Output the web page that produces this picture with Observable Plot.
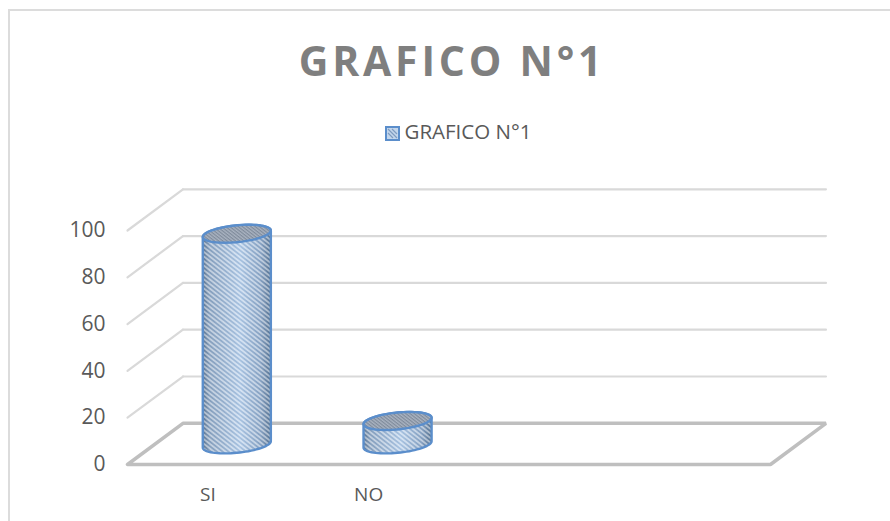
<!DOCTYPE html>
<html><head><meta charset="utf-8">
<script src="https://cdn.jsdelivr.net/npm/d3@7"></script>
<script src="https://cdn.jsdelivr.net/npm/@observablehq/plot@0.6"></script>
<style>
html,body{margin:0;padding:0;background:#fff;overflow:hidden}
#frame{position:absolute;left:7.5px;top:9px;width:1000px;height:700px;border:2px solid #dcdcdc;box-sizing:border-box}
#chart{position:absolute;left:0;top:0}
#title{position:absolute;left:7px;width:890px;top:30px;text-align:center;font:700 41px/60px "Open Sans";letter-spacing:3.8px;color:#7f7f7f}
#legend{position:absolute;left:13px;width:890px;top:119px;text-align:center;font:400 20.5px/24px "Open Sans";color:#595959}
#legend svg{vertical-align:-2px;margin-right:5px}
</style></head><body>
<div id="chart"></div><div id="frame"></div>
<div id="title"></div><div id="legend"></div>
<script>
const chartTitle = "GRAFICO N°1";
const categories = ["SI", "NO"];
const values = [90, 10];
const yTicks = [0, 20, 40, 60, 80, 100];
const slots = 4;

// oblique projection, in data units
const depthX = 0.345, depthY = 17.6;
const midX = 0.18, midY = 8.6;
const rA = 0.198, rB = 0.075, rC = 3.85;

const arc = (g, cx, v, t0, t1) => d3.range(0, 37).map(i => {
  const t = t0 + (t1 - t0) * i / 36;
  return {g, x: cx + rA * Math.cos(t) + rB * Math.sin(t), y: v + rC * Math.sin(t)};
});
const extreme = Math.atan2(rB, rA);

const backGrid = yTicks.slice(1).flatMap(v => [
  {g: v, x: depthX, y: v + depthY}, {g: v, x: slots + depthX, y: v + depthY}
]);
const sideGrid = yTicks.slice(1).flatMap(v => [
  {g: v, x: 0, y: v}, {g: v, x: depthX, y: v + depthY}
]);
const floor = [
  {x: 0, y: 0}, {x: slots, y: 0}, {x: slots + depthX, y: depthY}, {x: depthX, y: depthY}, {x: 0, y: 0}
];
const bodies = [], tops = [];
categories.forEach((c, i) => {
  const cx = i + 0.5 + midX;
  const v = values[i];
  const bottom = arc(c, cx, midY, extreme + Math.PI * 2, extreme + Math.PI);
  const topBack = arc(c, cx, midY + v, extreme + Math.PI, extreme);
  bodies.push(...bottom, ...topBack, bottom[0]);
  tops.push(...arc(c, cx, midY + v, 0, Math.PI * 2));
});

const defs = () => {
  const s = d3.create("svg:defs");
  const g = s.append("linearGradient").attr("id", "shade");
  [[0,"#5f7793"],[.1,"#8ea6c3"],[.55,"#b4cdea"],[.85,"#8ea8c8"],[1,"#5a7593"]]
    .forEach(([o,c]) => g.append("stop").attr("offset", o).attr("stop-color", c));
  const h = s.append("pattern").attr("id", "hatch").attr("patternUnits", "userSpaceOnUse")
    .attr("width", 3.6).attr("height", 3.6).attr("patternTransform", "rotate(38)");
  h.append("rect").attr("width", 3.6).attr("height", 1.8).attr("fill", "#ffffff").attr("fill-opacity", .45);
  h.append("rect").attr("y", 1.8).attr("width", 3.6).attr("height", 1.8).attr("fill", "#3f628c").attr("fill-opacity", .1);
  const t = s.append("pattern").attr("id", "tophatch").attr("patternUnits", "userSpaceOnUse")
    .attr("width", 2.6).attr("height", 2.6).attr("patternTransform", "rotate(38)");
  t.append("rect").attr("width", 2.6).attr("height", 2.6).attr("fill", "#a9b3c1");
  t.append("rect").attr("width", 2.6).attr("height", 1.2).attr("fill", "#7f8b9b");
  return s.node();
};

const font = '"Open Sans"';
const plot = Plot.plot({
  width: 890, height: 521,
  marginLeft: 127, marginRight: 120, marginTop: 230, marginBottom: 57,
  x: {domain: [0, slots], axis: null},
  y: {domain: [0, 100], axis: null},
  style: {background: "transparent", overflow: "visible"},
  marks: [
    defs,
    Plot.line(backGrid, {x: "x", y: "y", z: "g", stroke: "#d9d9d9", strokeWidth: 2.2}),
    Plot.line(sideGrid, {x: "x", y: "y", z: "g", stroke: "#d9d9d9", strokeWidth: 2.2}),
    Plot.line(floor, {x: "x", y: "y", stroke: "#bfbfbf", strokeWidth: 3.5, strokeLinejoin: "miter"}),
    Plot.line(bodies, {x: "x", y: "y", z: "g", fill: "url(#shade)", stroke: "none"}),
    Plot.line(bodies, {x: "x", y: "y", z: "g", fill: "url(#hatch)", stroke: "#5b8ecb", strokeWidth: 2.4}),
    Plot.line(tops, {x: "x", y: "y", z: "g", fill: "url(#tophatch)", stroke: "#5b8ecb", strokeWidth: 2.4}),
    Plot.axisY({ticks: yTicks, tickSize: 0, tickPadding: 22, fontSize: 21, fontFamily: font, fill: "#595959", label: null}),
    Plot.text(categories, {x: (d, i) => i + 0.5, y: 0, dy: 30, text: d => d, fontSize: 19, fontFamily: font, fill: "#595959"})
  ]
});
document.getElementById("chart").append(plot);
document.getElementById("title").textContent = chartTitle;
document.getElementById("legend").innerHTML =
  '<svg width="15" height="15"><rect x="1" y="1" width="13" height="13" fill="#c3d6ec" stroke="#5b8ecb" stroke-width="2"/><path d="M3 3L12 12M3 7L8 12M7 3L12 8" stroke="#7f9cc0" stroke-width="1.2"/></svg>' + chartTitle;
</script>
</body></html>
